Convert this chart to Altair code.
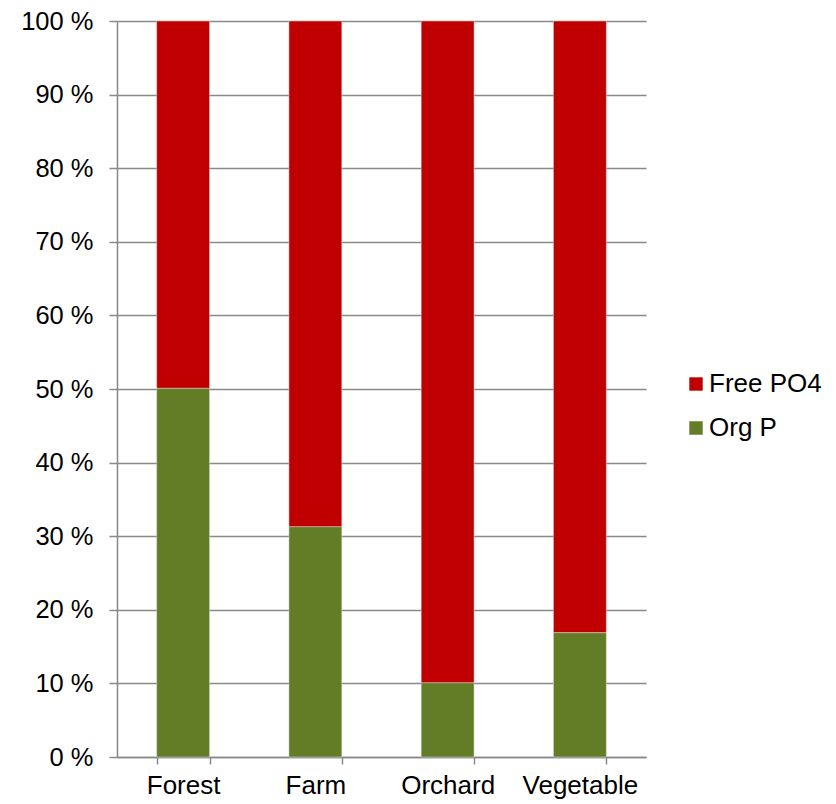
import altair as alt
import pandas as pd

# Share of phosphorus forms by land use
land_use = ["Forest", "Farm", "Orchard", "Vegetable"]
org_p = [50.1, 31.3, 10.1, 16.9]
free_po4 = [49.9, 68.7, 89.9, 83.1]

series = ["Free PO4", "Org P"]
colors = ["#C00000", "#637D27"]

rows = []
for i, lu in enumerate(land_use):
    rows.append({"land": lu, "form": "Org P", "pct": org_p[i], "ord": 0})
    rows.append({"land": lu, "form": "Free PO4", "pct": free_po4[i], "ord": 1})
df = pd.DataFrame(rows)

FONT = "Liberation Sans"
GRID = "#898989"

chart = (
    alt.Chart(df)
    .mark_bar(stroke="#E0E0E0", strokeWidth=0.5)
    .encode(
        x=alt.X(
            "land:N",
            sort=land_use,
            title=None,
            scale=alt.Scale(paddingInner=0.6, paddingOuter=0.3),
            axis=alt.Axis(
                labelAngle=0,
                labelFontSize=26,
                labelColor="#000000",
                labelPadding=8,
                tickBand="extent",
                tickSize=7,
                tickColor=GRID,
                tickWidth=1.5,
                domainColor=GRID,
                domainWidth=1.5,
                grid=False,
            ),
        ),
        y=alt.Y(
            "pct:Q",
            stack=True,
            title=None,
            scale=alt.Scale(domain=[0, 100], nice=False),
            axis=alt.Axis(
                values=list(range(0, 101, 10)),
                labelExpr="datum.value + ' %'",
                labelFontSize=25.5,
                labelColor="#000000",
                labelPadding=16,
                tickSize=8,
                tickColor=GRID,
                tickWidth=1.5,
                domainColor=GRID,
                domainWidth=1.5,
                grid=True,
                gridColor=GRID,
                gridWidth=1.5,
            ),
        ),
        color=alt.Color(
            "form:N",
            scale=alt.Scale(domain=series, range=colors),
            legend=alt.Legend(
                title=None,
                orient="none",
                legendX=566,
                legendY=350,
                symbolType="square",
                symbolSize=180,
                symbolStrokeWidth=0,
                labelFontSize=26,
                labelColor="#000000",
                rowPadding=18,
                labelOffset=0,
            ),
        ),
        order=alt.Order("ord:Q"),
    )
    .properties(
        width=529,
        height=736,
        autosize=alt.AutoSizeParams(type="none"),
        padding={"left": 117, "top": 21, "right": 190, "bottom": 47},
    )
    .configure(font=FONT)
    .configure_view(stroke=None)
)

chart.save("out.html", embed_options={"renderer": "svg", "actions": False})
